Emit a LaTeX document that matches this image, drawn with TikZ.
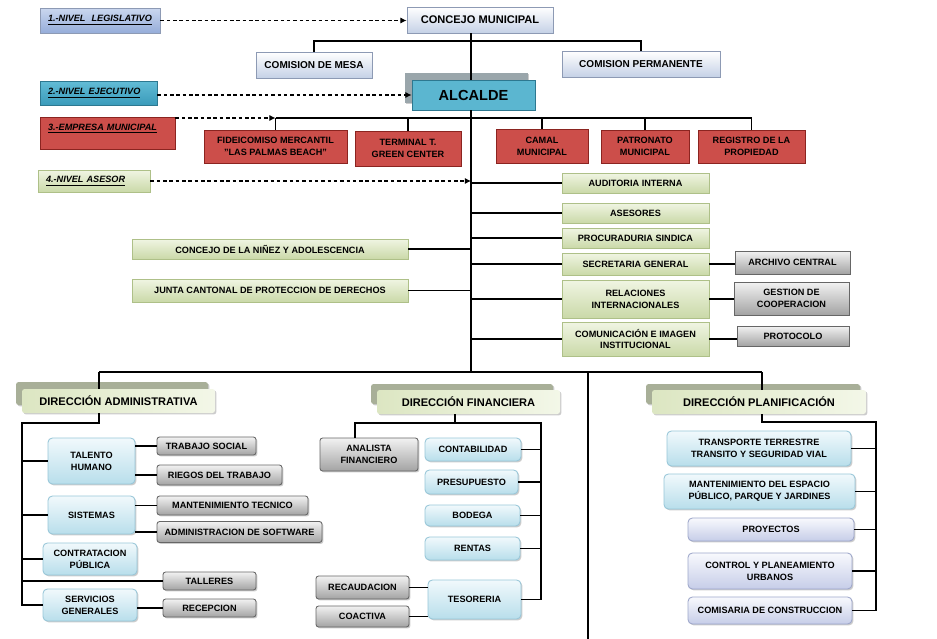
\documentclass[tikz,border=0pt]{standalone}
\usepackage{fontspec}
\setmainfont{Liberation Sans}
\usetikzlibrary{arrows.meta,shadows}
\definecolor{redA}{HTML}{CC4E4A}
\definecolor{redB}{HTML}{EBA3A0}
\definecolor{redD}{HTML}{8B2420}
\definecolor{grnA}{HTML}{CAD9A8}
\definecolor{grnB}{HTML}{F0F5E3}
\definecolor{grnD}{HTML}{AEC088}
\definecolor{gryA}{HTML}{A3A3A3}
\definecolor{gryB}{HTML}{F2F2F2}
\definecolor{gryD}{HTML}{666666}
\definecolor{bluA}{HTML}{B8DEEB}
\definecolor{bluB}{HTML}{F1F9FC}
\definecolor{bluD}{HTML}{97C6D8}
\definecolor{lavA}{HTML}{C6CDE8}
\definecolor{lavB}{HTML}{F8F9FD}
\definecolor{lavD}{HTML}{9DA6CA}
\definecolor{whbA}{HTML}{C5D1E6}
\definecolor{whbD}{HTML}{8D9AB4}
\definecolor{stlA}{HTML}{96ADD9}
\definecolor{stlB}{HTML}{CAD7EF}
\definecolor{tealA}{HTML}{3A9BBA}
\definecolor{tealB}{HTML}{62BCD6}
\definecolor{tealD}{HTML}{2D7890}
\definecolor{alcA}{HTML}{5BB6D0}
\definecolor{alcB}{HTML}{9CD8EA}
\definecolor{backG}{HTML}{9AA6AB}
\definecolor{dirA}{HTML}{DCE6C2}
\definecolor{dirB}{HTML}{F3F7E8}
\definecolor{dirBack}{HTML}{A8AF98}
\begin{document}
\begin{tikzpicture}[x=0.02cm,y=-0.02cm,
  wh/.style 2 args={minimum width=#1*0.02cm, minimum height=#2*0.02cm},
  box/.style={draw, inner sep=0pt, align=center, line width=0.5pt,
    font=\fontsize{5.2}{6.8}\selectfont\bfseries,
    drop shadow={shadow xshift=0.8pt, shadow yshift=-0.8pt, opacity=0.4}},
  head/.style={box, top color=white, bottom color=whbA, draw=whbD},
  nivel/.style={box, align=left, inner xsep=0.16cm,
    font=\fontsize{5.2}{6.8}\selectfont\bfseries\itshape},
  redbox/.style={box, top color=redA, middle color=redB, bottom color=redA, draw=redD},
  grnbox/.style={box, top color=grnB, bottom color=grnA, draw=grnD},
  grybox/.style={box, rounded corners=1.5pt, top color=gryB, bottom color=gryA, draw=gryD},
  blubox/.style={box, rounded corners=2.5pt, top color=bluB, bottom color=bluA, draw=bluD},
  lavbox/.style={box, rounded corners=2.5pt, top color=lavB, bottom color=lavA, draw=lavD},
  dirback/.style={box, draw=none, fill=dirBack, rounded corners=1.5pt},
  dirbox/.style={box, draw=none, left color=dirA, right color=dirB, rounded corners=1.5pt,
    font=\fontsize{6.3}{7.5}\selectfont\bfseries},
  ln/.style={line width=0.6pt},
  dasharr/.style={line width=0.6pt, dash pattern=on 2pt off 1.6pt,
    -{Latex[length=3.5pt,width=3.5pt]}}]
\useasboundingbox (0,0) rectangle (937,639);

\node[nivel, top color=stlB, bottom color=stlA, draw=whbD, wh={120}{25}, text width=2.08cm] (niv1) at (100,20.5) {\underline{1.-NIVEL~~LEGISLATIVO}};
\node[nivel, top color=tealB, bottom color=tealA, draw=tealD, wh={117}{24}, text width=2.02cm] (niv2) at (98.5,93) {\underline{2.-NIVEL EJECUTIVO}};
\node[nivel, top color=redA, middle color=redB, bottom color=redA, draw=redD, wh={135}{32}, text width=2.38cm] (niv3) at (107.5,133) {\underline{3.-EMPRESA MUNICIPAL}\\ \mbox{}};
\node[nivel, top color=grnB, bottom color=grnA, draw=grnD, wh={112}{22}, text width=1.92cm] (niv4) at (94,181) {\underline{4.-NIVEL ASESOR}};

\node[head, wh={146}{26}, font=\fontsize{6.3}{7.5}\selectfont\bfseries] (concejo) at (480,20) {CONCEJO MUNICIPAL};
\node[head, wh={116}{26}, font=\fontsize{5.7}{7}\selectfont\bfseries] (mesa) at (314,65) {COMISION DE MESA};
\node[head, wh={158}{26}, font=\fontsize{5.7}{7}\selectfont\bfseries] (perm) at (641,64) {COMISION PERMANENTE};

\node[box, draw=none, fill=backG, wh={123}{30}] (alcb) at (466.5,88) {};
\node[box, top color=alcA, middle color=alcB, bottom color=alcA, draw=tealD, wh={123}{30},
  font=\fontsize{8.3}{10}\selectfont\bfseries] (alcalde) at (473.5,95) {ALCALDE};

\node[redbox, wh={143}{33}] (fide) at (275.5,146.5) {FIDEICOMISO MERCANTIL\\"LAS PALMAS BEACH"};
\node[redbox, wh={106}{35}] (term) at (408,148.5) {TERMINAL T.\\GREEN CENTER};
\node[redbox, wh={92}{34}] (camal) at (542,146) {CAMAL\\MUNICIPAL};
\node[redbox, wh={88}{33}] (patro) at (645,146.5) {PATRONATO\\MUNICIPAL};
\node[redbox, wh={107}{33}] (regis) at (751.5,146.5) {REGISTRO DE LA\\PROPIEDAD};

\node[grnbox, wh={147}{20}] (audit) at (635.5,183) {AUDITORIA INTERNA};
\node[grnbox, wh={147}{20}] (asesor) at (635.5,213) {ASESORES};
\node[grnbox, wh={147}{20}] (procu) at (635.5,238) {PROCURADURIA SINDICA};
\node[grnbox, wh={147}{22}] (secre) at (635.5,264) {SECRETARIA GENERAL};
\node[grnbox, wh={147}{38}] (relac) at (635.5,299) {RELACIONES\\INTERNACIONALES};
\node[grnbox, wh={147}{34}] (comun) at (635.5,339) {COMUNICACIÓN E IMAGEN\\INSTITUCIONAL};
\node[grnbox, wh={276}{20}] (ninez) at (270,249) {CONCEJO DE LA NIÑEZ Y ADOLESCENCIA};
\node[grnbox, wh={276}{23}] (junta) at (270,290.5) {JUNTA CANTONAL DE PROTECCION DE DERECHOS};

\node[grybox, rounded corners=0pt, wh={115}{23}] (archi) at (792.5,262.5) {ARCHIVO CENTRAL};
\node[grybox, rounded corners=0pt, wh={115}{33}] (gesti) at (791.5,298.5) {GESTION DE\\COOPERACION};
\node[grybox, rounded corners=0pt, wh={112}{20}] (proto) at (793,336) {PROTOCOLO};

\node[dirback, wh={192}{23}] (dadmb) at (112,393.5) {};
\node[dirbox, wh={193}{24}] (dadm) at (118.5,401) {DIRECCIÓN ADMINISTRATIVA};
\node[dirback, wh={182}{20}] (dfinb) at (462,394) {};
\node[dirbox, wh={183}{24}] (dfin) at (468.5,402) {DIRECCIÓN FINANCIERA};
\node[dirback, wh={214}{20}] (dplanb) at (753,394) {};
\node[dirbox, wh={214}{24}] (dplan) at (759,402) {DIRECCIÓN PLANIFICACIÓN};

\node[blubox, wh={87}{46}] (talento) at (91.5,461) {TALENTO\\HUMANO};
\node[blubox, wh={87}{38}] (sistem) at (91.5,515) {SISTEMAS};
\node[blubox, wh={94}{32}] (contra) at (90,559) {CONTRATACION\\PÚBLICA};
\node[blubox, wh={94}{32}] (servi) at (90,605) {SERVICIOS\\GENERALES};
\node[grybox, wh={99}{18}] (trabajo) at (206.5,446) {TRABAJO SOCIAL};
\node[grybox, wh={125}{20}] (riesgo) at (219.5,475) {RIEGOS DEL TRABAJO};
\node[grybox, wh={151}{19}] (manten) at (232.5,505.5) {MANTENIMIENTO TECNICO};
\node[grybox, wh={165}{21}] (admsoft) at (239.5,532) {ADMINISTRACION DE SOFTWARE};
\node[grybox, wh={93}{18}] (taller) at (209.5,581) {TALLERES};
\node[grybox, wh={93}{18}] (recep) at (209.5,608) {RECEPCION};

\node[grybox, wh={98}{33}] (analis) at (369,454.5) {ANALISTA\\FINANCIERO};
\node[blubox, wh={96}{23}] (contab) at (473,449.5) {CONTABILIDAD};
\node[blubox, wh={93}{24}] (presup) at (471.5,482) {PRESUPUESTO};
\node[blubox, wh={95}{21}] (bodega) at (472.5,515.5) {BODEGA};
\node[blubox, wh={95}{23}] (rentas) at (472.5,548.5) {RENTAS};
\node[blubox, wh={93}{39}] (tesor) at (474.5,599.5) {TESORERIA};
\node[grybox, wh={93}{23}] (recaud) at (362.5,587.5) {RECAUDACION};
\node[grybox, wh={93}{21}] (coact) at (362.5,616.5) {COACTIVA};

\node[blubox, wh={184}{35}] (transp) at (759,448.5) {TRANSPORTE TERRESTRE\\TRANSITO Y SEGURIDAD VIAL};
\node[blubox, wh={191}{35}] (espac) at (759.5,491.5) {MANTENIMIENTO DEL ESPACIO\\PÚBLICO, PARQUE Y JARDINES};
\node[lavbox, wh={166}{23}] (proyec) at (771,529.5) {PROYECTOS};
\node[lavbox, wh={164}{36}] (control) at (770,571) {CONTROL Y PLANEAMIENTO\\URBANOS};
\node[lavbox, wh={164}{27}] (comisa) at (770,610.5) {COMISARIA DE CONSTRUCCION};

\coordinate (tr) at (471,372);
\coordinate (cm) at (471,41);
\coordinate (emp) at (275.5,118);
\coordinate (hl) at (99,372);
\coordinate (hr) at (762,372);
\coordinate (hs) at (588,372);
\coordinate (hsb) at (588,639);
\coordinate (ab) at (22,423);
\coordinate (fm) at (455,423);
\coordinate (fl) at (355,423);
\coordinate (fr) at (541,423);
\coordinate (pr) at (876,422);

\draw[dasharr] (niv1.east) -- (niv1.east -| concejo.west);
\draw[dasharr] (niv2.east |- alcalde.west) -- (alcalde.west);
\draw[dasharr] (niv3.east |- emp) -- (emp);
\draw[dasharr] (niv4.east) -- (niv4.east -| tr);

\draw[ln] (concejo.south -| tr) -- (alcalde.north -| tr);
\draw[ln] (mesa.north) |- (perm.north |- cm) -- (perm.north);
\draw[ln] (alcalde.south -| tr) -- (tr);
\draw[ln] (emp) -- (regis.north |- emp);
\foreach \n in {fide,term,camal,patro,regis}
  \draw[ln] (\n.north) -- (\n.north |- emp);
\foreach \n in {audit,asesor,procu,secre,relac,comun}
  \draw[ln] (\n.west -| tr) -- (\n.west);
\foreach \n in {ninez,junta}
  \draw[ln] (\n.east) -- (\n.east -| tr);
\draw[ln] (secre.east) -- (secre.east -| archi.west);
\draw[ln] (relac.east) -- (relac.east -| gesti.west);
\draw[ln] (comun.east) -- (comun.east -| proto.west);

\draw[ln] (hl) -- (hr);
\draw[ln] (hs) -- (hsb);
\draw[ln] (hl) -- (dadm.north -| hl);
\draw[ln] (hr) -- (dplan.north -| hr);

\draw[ln] (dadm.south -| hl) -- (hl |- ab) -- (ab) -- (ab |- servi.west) -- (servi.west);
\foreach \n in {talento,sistem,contra,taller}
  \draw[ln] (ab |- \n.west) -- (\n.west);
\draw[ln] (talento.east |- trabajo.west) -- (trabajo.west);
\draw[ln] (talento.east |- riesgo.west) -- (riesgo.west);
\draw[ln] (sistem.east |- manten.west) -- (manten.west);
\draw[ln] (sistem.east |- admsoft.west) -- (admsoft.west);
\draw[ln] (servi.east |- recep.west) -- (recep.west);

\draw[ln] (dfin.south -| fm) -- (fm);
\draw[ln] (analis.north -| fl) -- (fl) -- (fr) -- (fr |- tesor.east) -- (tesor.east);
\foreach \n in {contab,presup,bodega,rentas}
  \draw[ln] (\n.east) -- (\n.east -| fr);
\draw[ln] (recaud.east) -- (recaud.east -| tesor.west);
\draw[ln] (coact.east) -- (coact.east -| tesor.west);

\draw[ln] (dplan.south -| hr) -- (hr |- pr) -- (pr) -- (pr |- comisa.east) -- (comisa.east);
\foreach \n in {transp,espac,proyec,control}
  \draw[ln] (\n.east) -- (\n.east -| pr);
\end{tikzpicture}
\end{document}
